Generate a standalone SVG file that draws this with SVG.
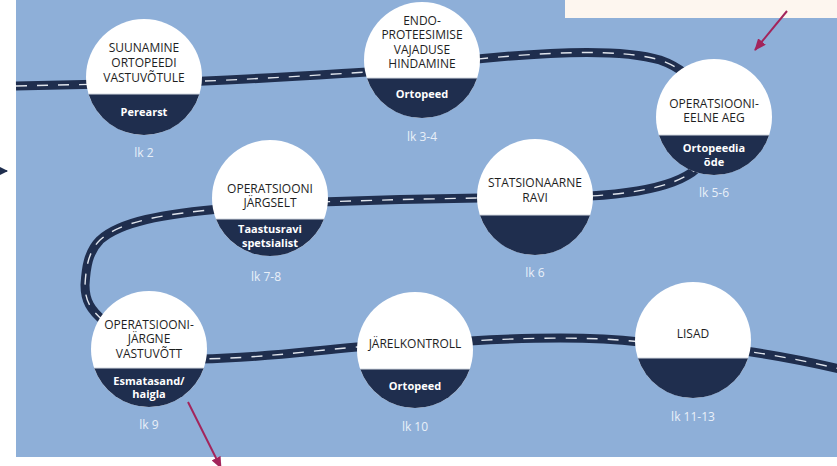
<svg xmlns="http://www.w3.org/2000/svg" width="837" height="466" viewBox="0 0 837 466">
  <style>
    .disc { fill: #ffffff; }
    .half { fill: #1f2e4e; }
    .seam { stroke: #d3d8e0; stroke-width: 1; }
    .title { font-family: "Open Sans", "Liberation Sans", sans-serif; font-size: 12px; fill: #1e1e1e; text-anchor: middle; }
    .role { font-family: "Open Sans", "Liberation Sans", sans-serif; font-size: 11px; font-weight: bold; fill: #ffffff; text-anchor: middle; }
    .page { font-family: "Open Sans", "Liberation Sans", sans-serif; font-size: 12px; fill: #e9eff8; text-anchor: middle; }
    .road { fill: none; stroke: #1f2e4e; stroke-width: 9; stroke-linejoin: round; }
    .lane { fill: none; stroke: #dfe4ec; stroke-width: 1.4; stroke-dasharray: 11 10; }
    .pointer { fill: none; stroke: #a3245b; stroke-width: 2; }
  </style>
  <defs>
    <marker id="head-magenta" markerUnits="userSpaceOnUse" markerWidth="12" markerHeight="10" refX="11" refY="5" orient="auto">
      <path d="M0,0 L12,5 L0,10 z" fill="#a3245b"/>
    </marker>
    <marker id="head-navy" markerUnits="userSpaceOnUse" markerWidth="8" markerHeight="8" refX="7" refY="4" orient="auto">
      <path d="M0,0 L8,4 L0,8 z" fill="#1f2e4e"/>
    </marker>
  </defs>

  <!-- page background and panel -->
  <rect x="0" y="0" width="837" height="466" fill="#ffffff"/>
  <rect x="16" y="0" width="821" height="457" fill="#8eafd8"/>
  <rect x="565" y="0" width="272" height="18" fill="#fdf6ef"/>

  <!-- the winding road -->
  <g id="connectors">
    <path id="road-path" class="road" d="M16,86 L150,83 C250,80 300,76 400,70 L460,61 C540,52 620,48 660,60 C680,67 692,78 705,95 L714,130 L708,150 C702,178 660,192 590,196 L480,198 C420,199 380,200 320,202 L270,205 L230,208 C160,214 120,222 100,240 C88,252 86,268 85,285 C85,300 90,310 105,322 L149,349 L200,359 C260,358 300,352 357,347 L470,341 C520,338 590,336 640,342 L745,351 C780,356 810,362 840,369"/>
    <path class="lane" d="M16,86 L150,83 C250,80 300,76 400,70 L460,61 C540,52 620,48 660,60 C680,67 692,78 705,95 L714,130 L708,150 C702,178 660,192 590,196 L480,198 C420,199 380,200 320,202 L270,205 L230,208 C160,214 120,222 100,240 C88,252 86,268 85,285 C85,300 90,310 105,322 L149,349 L200,359 C260,358 300,352 357,347 L470,341 C520,338 590,336 640,342 L745,351 C780,356 810,362 840,369"/>
    <line class="pointer" x1="787" y1="11" x2="755" y2="50" marker-end="url(#head-magenta)"/>
    <line class="pointer" x1="188" y1="402" x2="221" y2="468" marker-end="url(#head-magenta)"/>
    <line x1="-12" y1="171" x2="7" y2="171" stroke="#1f2e4e" stroke-width="1.5" marker-end="url(#head-navy)"/>
  </g>

  <!-- stops along the road -->
  <g id="node-suunamine">
    <circle class="disc" cx="144" cy="77" r="58"/>
    <path class="half" d="M88.55,94 A58,58 0 0 0 199.45,94 Z"/>
    <line class="seam" x1="88.55" y1="94" x2="199.45" y2="94"/>
    <text class="title" x="144" y="51.5">SUUNAMINE</text>
    <text class="title" x="144" y="66.5">ORTOPEEDI</text>
    <text class="title" x="144" y="81.5">VASTUVÕTULE</text>
    <text class="role" x="144" y="116">Perearst</text>
    <text class="page" x="144" y="157">lk 2</text>
  </g>

  <g id="node-endoproteesimine">
    <circle class="disc" cx="422" cy="60" r="58"/>
    <path class="half" d="M366.86,78 A58,58 0 0 0 477.14,78 Z"/>
    <line class="seam" x1="366.86" y1="78" x2="477.14" y2="78"/>
    <text class="title" x="422" y="24.5">ENDO-</text>
    <text class="title" x="422" y="39">PROTEESIMISE</text>
    <text class="title" x="422" y="53.5">VAJADUSE</text>
    <text class="title" x="422" y="68">HINDAMINE</text>
    <text class="role" x="422" y="98">Ortopeed</text>
    <text class="page" x="422" y="141">lk 3-4</text>
  </g>

  <g id="node-eelne-aeg">
    <circle class="disc" cx="714" cy="117" r="58"/>
    <path class="half" d="M658.86,135 A58,58 0 0 0 769.14,135 Z"/>
    <line class="seam" x1="658.86" y1="135" x2="769.14" y2="135"/>
    <text class="title" x="714" y="107.5">OPERATSIOONI-</text>
    <text class="title" x="714" y="122">EELNE AEG</text>
    <text class="role" x="714" y="152">Ortopeedia</text>
    <text class="role" x="714" y="166">õde</text>
    <text class="page" x="714" y="197">lk 5-6</text>
  </g>

  <g id="node-statsionaarne">
    <circle class="disc" cx="535" cy="197" r="58"/>
    <path class="half" d="M479.86,215 A58,58 0 0 0 590.14,215 Z"/>
    <line class="seam" x1="479.86" y1="215" x2="590.14" y2="215"/>
    <text class="title" x="535" y="186.5">STATSIONAARNE</text>
    <text class="title" x="535" y="201.5">RAVI</text>
    <text class="page" x="535" y="277">lk 6</text>
  </g>

  <g id="node-jargselt">
    <circle class="disc" cx="270" cy="198" r="58"/>
    <path class="half" d="M215.93,219 A58,58 0 0 0 324.07,219 Z"/>
    <line class="seam" x1="215.93" y1="219" x2="324.07" y2="219"/>
    <text class="title" x="270" y="192.5">OPERATSIOONI</text>
    <text class="title" x="270" y="207">JÄRGSELT</text>
    <text class="role" x="270" y="233">Taastusravi</text>
    <text class="role" x="270" y="247">spetsialist</text>
    <text class="page" x="266" y="281">lk 7-8</text>
  </g>

  <g id="node-jargne-vastuvott">
    <circle class="disc" cx="149" cy="349" r="58"/>
    <path class="half" d="M94.2,368 A58,58 0 0 0 203.8,368 Z"/>
    <line class="seam" x1="94.2" y1="368" x2="203.8" y2="368"/>
    <text class="title" x="149" y="328.5">OPERATSIOONI-</text>
    <text class="title" x="149" y="343">JÄRGNE</text>
    <text class="title" x="149" y="357.5">VASTUVÕTT</text>
    <text class="role" x="149" y="385">Esmatasand/</text>
    <text class="role" x="149" y="398">haigla</text>
    <text class="page" x="149" y="429">lk 9</text>
  </g>

  <g id="node-jarelkontroll">
    <circle class="disc" cx="415" cy="350" r="58"/>
    <path class="half" d="M360.2,369 A58,58 0 0 0 469.8,369 Z"/>
    <line class="seam" x1="360.2" y1="369" x2="469.8" y2="369"/>
    <text class="title" x="415" y="347.5">JÄRELKONTROLL</text>
    <text class="role" x="415" y="390">Ortopeed</text>
    <text class="page" x="415" y="431">lk 10</text>
  </g>

  <g id="node-lisad">
    <circle class="disc" cx="693" cy="340" r="58"/>
    <path class="half" d="M637.86,358 A58,58 0 0 0 748.14,358 Z"/>
    <line class="seam" x1="637.86" y1="358" x2="748.14" y2="358"/>
    <text class="title" x="693" y="337.5">LISAD</text>
    <text class="page" x="693" y="421">lk 11-13</text>
  </g>
</svg>
